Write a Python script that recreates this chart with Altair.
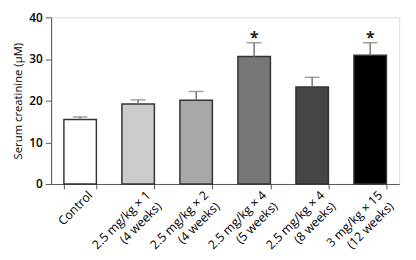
import altair as alt
import pandas as pd

categories = ["Control", "2.5 mg/kg × 1|(4 weeks)", "2.5 mg/kg × 2|(4 weeks)",
              "2.5 mg/kg × 4|(5 weeks)", "2.5 mg/kg × 4|(8 weeks)", "3 mg/kg × 15|(12 weeks)"]
means = [15.5, 19.2, 20.1, 30.6, 23.3, 30.9]
errors = [0.6, 1.0, 2.1, 3.3, 2.3, 3.0]
significant = [False, False, False, True, False, True]
fills = ["#ffffff", "#cccccc", "#a8a8a8", "#777777", "#454545", "#000000"]

df = pd.DataFrame({
    "cat": categories,
    "mean": means,
    "upper": [m + e for m, e in zip(means, errors)],
    "star": ["*" if s else "" for s in significant],
})

FONT = "Open Sans"
NB = "\u00a0"

label_expr = (
    "indexof(datum.label, '|') < 0 ? datum.label + '" + NB * 3 + "' : "
    "[split(datum.label, '|')[0] + '" + NB * 5 + "', split(datum.label, '|')[1]]"
)

xenc = alt.X("cat:N", sort=categories, title=None,
             scale=alt.Scale(paddingInner=0.44, paddingOuter=0.22),
             axis=alt.Axis(
                 labelAngle=315, labelAlign="right", labelBaseline="middle",
                 labelFont=FONT, labelFontSize=12.5, labelColor="#000",
                 labelExpr=label_expr,
                 labelLineHeight=16, labelPadding=4, labelOffset=10, labelBound=False,
                 tickBand="extent", tickSize=5, tickColor="#555", domainColor="#555",
                 domainWidth=1, tickWidth=1))

bars = alt.Chart(df).mark_bar(stroke="#333333", strokeWidth=1.5).encode(
    x=xenc,
    y=alt.Y("mean:Q", title="Serum creatinine (μM)",
            scale=alt.Scale(domain=[0, 40]),
            axis=alt.Axis(values=[0, 10, 20, 30, 40], tickSize=6, grid=False,
                          labelFont=FONT, labelFontSize=12, labelFontWeight=600,
                          labelColor="#000", labelPadding=3,
                          titleFont=FONT, titleFontSize=11.5, titleFontWeight="normal",
                          titleColor="#000", titlePadding=6,
                          tickColor="#555", domainColor="#555")),
    fill=alt.Fill("cat:N", sort=categories, scale=alt.Scale(domain=categories, range=fills), legend=None),
)

err = alt.Chart(df).mark_rule(color="#777777", strokeWidth=1.5).encode(
    x=alt.X("cat:N", sort=categories),
    y="mean:Q",
    y2="upper:Q",
)

caps = alt.Chart(df).mark_tick(color="#777777", thickness=1.5, size=15).encode(
    x=alt.X("cat:N", sort=categories),
    y="upper:Q",
)

stars = alt.Chart(df).mark_text(font=FONT, fontSize=16, fontWeight="bold", baseline="middle", dy=-5, color="#222").encode(
    x=alt.X("cat:N", sort=categories),
    y="upper:Q",
    text="star:N",
)

chart = alt.layer(bars, err, caps, stars).properties(
    width=355, height=170,
    autosize=alt.AutoSizeParams(type="none"),
    padding={"left": 44, "top": 7, "right": 9, "bottom": 74},
).configure_view(stroke=None).configure(background="white")

chart.save("out.html", embed_options={"renderer": "svg", "actions": False})
